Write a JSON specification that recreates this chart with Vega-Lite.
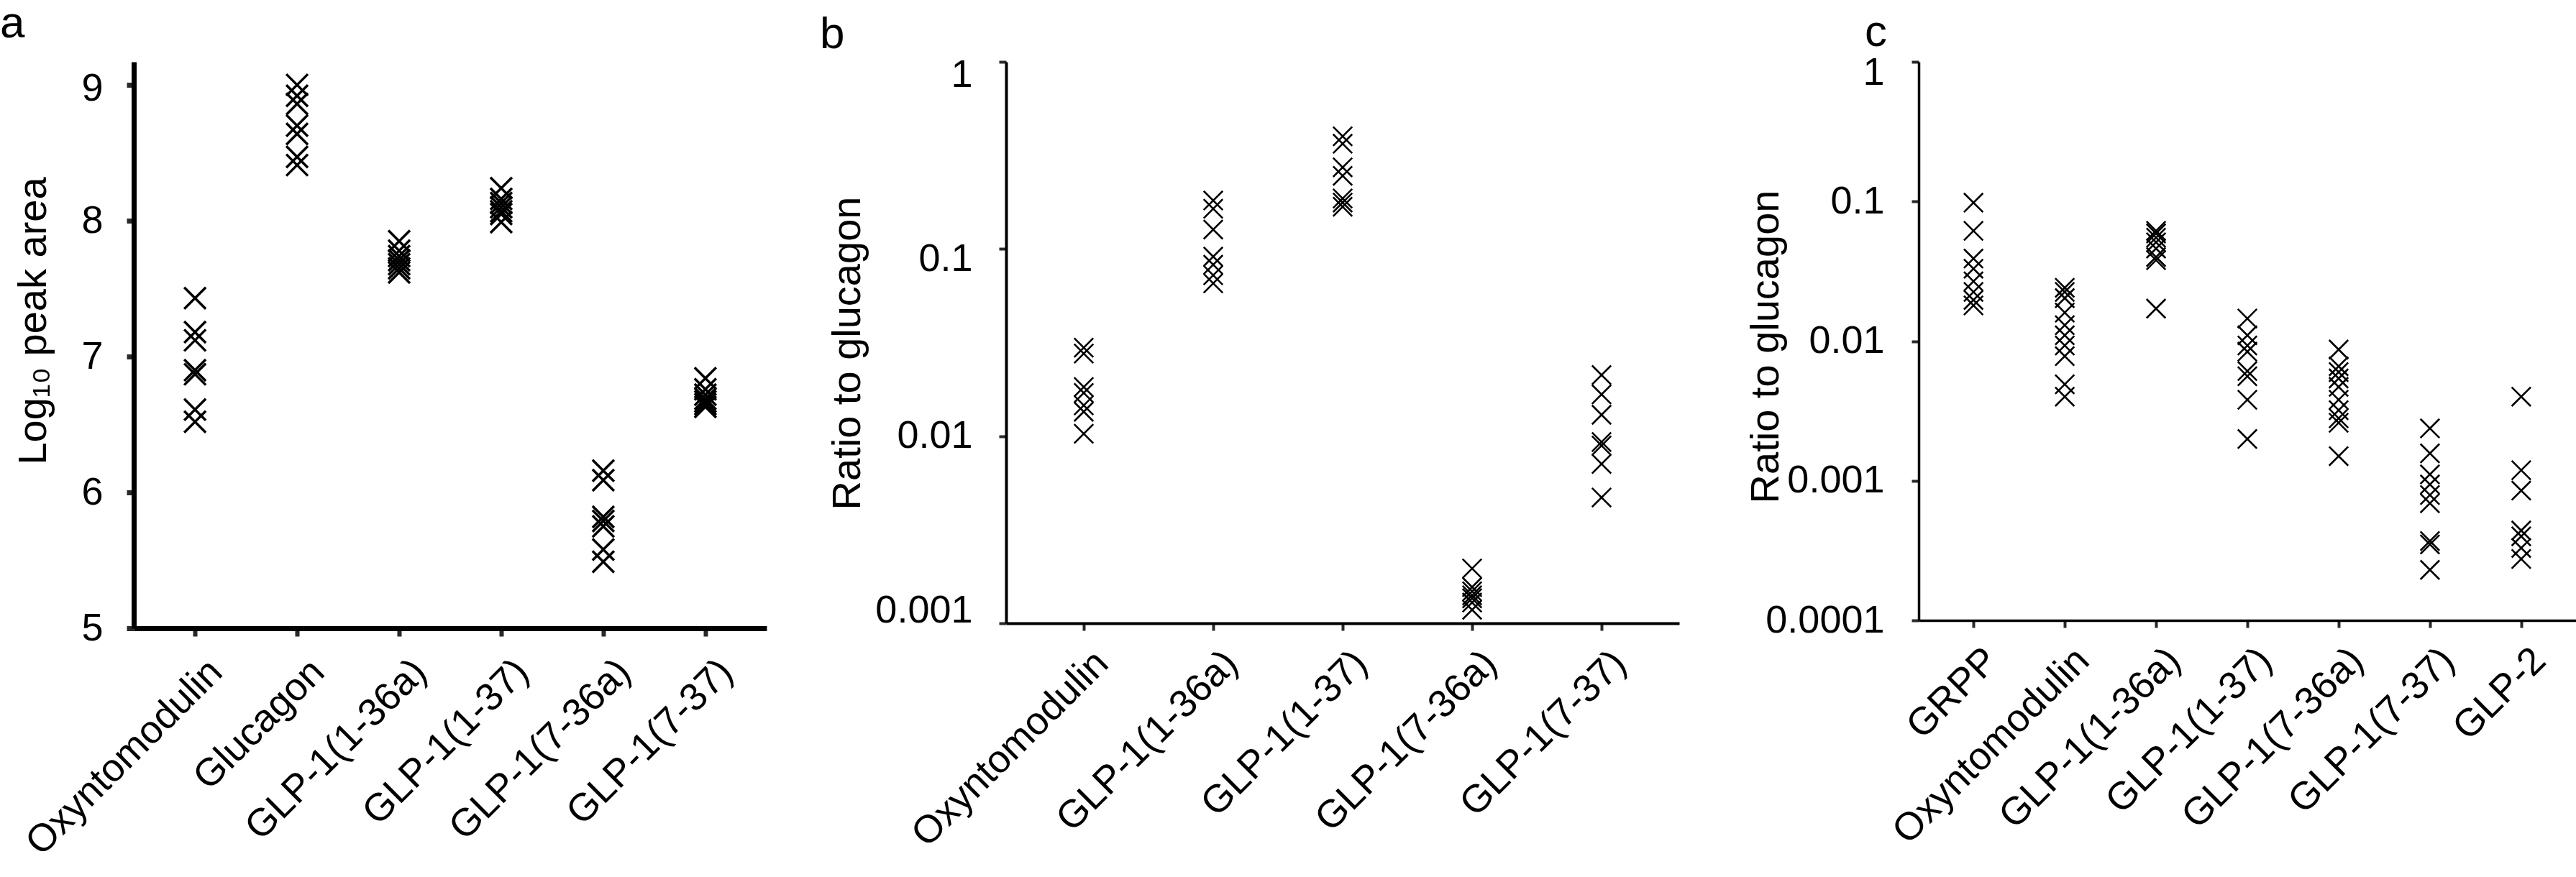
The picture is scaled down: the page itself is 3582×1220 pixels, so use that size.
{
  "$schema": "https://vega.github.io/schema/vega-lite/v6.json",
  "background": "white",
  "padding": {"top": 2, "left": 0, "right": 0, "bottom": 0},
  "bounds": "flush",
  "spacing": 333,
  "config": {
    "view": {"stroke": null},
    "font": "Liberation Sans",
    "axis": {"grid": false, "labelFont": "Liberation Sans", "titleFont": "Liberation Sans", "labelColor": "black", "titleColor": "black", "titleFontWeight": "normal", "domainColor": "black", "tickColor": "#2a2a2a", "labelLimit": 0},
    "title": {"font": "Liberation Sans", "fontWeight": "normal", "fontSize": 62, "anchor": "start", "frame": "group", "baseline": "alphabetic", "color": "black"}
  },
  "datasets": {
    "a": [
      {"cat": "Oxyntomodulin", "value": 7.43}, {"cat": "Oxyntomodulin", "value": 7.18}, {"cat": "Oxyntomodulin", "value": 7.12}, {"cat": "Oxyntomodulin", "value": 6.90}, {"cat": "Oxyntomodulin", "value": 6.87}, {"cat": "Oxyntomodulin", "value": 6.61}, {"cat": "Oxyntomodulin", "value": 6.52},
      {"cat": "Glucagon", "value": 9.00}, {"cat": "Glucagon", "value": 8.92}, {"cat": "Glucagon", "value": 8.86}, {"cat": "Glucagon", "value": 8.70}, {"cat": "Glucagon", "value": 8.64}, {"cat": "Glucagon", "value": 8.47}, {"cat": "Glucagon", "value": 8.41},
      {"cat": "GLP-1(1-36a)", "value": 7.85}, {"cat": "GLP-1(1-36a)", "value": 7.78}, {"cat": "GLP-1(1-36a)", "value": 7.74}, {"cat": "GLP-1(1-36a)", "value": 7.71}, {"cat": "GLP-1(1-36a)", "value": 7.68}, {"cat": "GLP-1(1-36a)", "value": 7.65}, {"cat": "GLP-1(1-36a)", "value": 7.62},
      {"cat": "GLP-1(1-37)", "value": 8.24}, {"cat": "GLP-1(1-37)", "value": 8.16}, {"cat": "GLP-1(1-37)", "value": 8.13}, {"cat": "GLP-1(1-37)", "value": 8.10}, {"cat": "GLP-1(1-37)", "value": 8.07}, {"cat": "GLP-1(1-37)", "value": 8.05}, {"cat": "GLP-1(1-37)", "value": 7.99},
      {"cat": "GLP-1(7-36a)", "value": 6.16}, {"cat": "GLP-1(7-36a)", "value": 6.09}, {"cat": "GLP-1(7-36a)", "value": 5.82}, {"cat": "GLP-1(7-36a)", "value": 5.79}, {"cat": "GLP-1(7-36a)", "value": 5.75}, {"cat": "GLP-1(7-36a)", "value": 5.58}, {"cat": "GLP-1(7-36a)", "value": 5.49},
      {"cat": "GLP-1(7-37)", "value": 6.84}, {"cat": "GLP-1(7-37)", "value": 6.76}, {"cat": "GLP-1(7-37)", "value": 6.72}, {"cat": "GLP-1(7-37)", "value": 6.69}, {"cat": "GLP-1(7-37)", "value": 6.67}, {"cat": "GLP-1(7-37)", "value": 6.65}, {"cat": "GLP-1(7-37)", "value": 6.63}
    ],
    "b": [
      {"cat": "Oxyntomodulin", "value": 0.0297}, {"cat": "Oxyntomodulin", "value": 0.0276}, {"cat": "Oxyntomodulin", "value": 0.0183}, {"cat": "Oxyntomodulin", "value": 0.0170}, {"cat": "Oxyntomodulin", "value": 0.0146}, {"cat": "Oxyntomodulin", "value": 0.0135}, {"cat": "Oxyntomodulin", "value": 0.0103},
      {"cat": "GLP-1(1-36a)", "value": 0.1815}, {"cat": "GLP-1(1-36a)", "value": 0.164}, {"cat": "GLP-1(1-36a)", "value": 0.127}, {"cat": "GLP-1(1-36a)", "value": 0.091}, {"cat": "GLP-1(1-36a)", "value": 0.0824}, {"cat": "GLP-1(1-36a)", "value": 0.0724}, {"cat": "GLP-1(1-36a)", "value": 0.0655},
      {"cat": "GLP-1(1-37)", "value": 0.40}, {"cat": "GLP-1(1-37)", "value": 0.365}, {"cat": "GLP-1(1-37)", "value": 0.273}, {"cat": "GLP-1(1-37)", "value": 0.246}, {"cat": "GLP-1(1-37)", "value": 0.186}, {"cat": "GLP-1(1-37)", "value": 0.177}, {"cat": "GLP-1(1-37)", "value": 0.168},
      {"cat": "GLP-1(7-36a)", "value": 0.00196}, {"cat": "GLP-1(7-36a)", "value": 0.00156}, {"cat": "GLP-1(7-36a)", "value": 0.00148}, {"cat": "GLP-1(7-36a)", "value": 0.00141}, {"cat": "GLP-1(7-36a)", "value": 0.00136}, {"cat": "GLP-1(7-36a)", "value": 0.00129}, {"cat": "GLP-1(7-36a)", "value": 0.00118},
      {"cat": "GLP-1(7-37)", "value": 0.0212}, {"cat": "GLP-1(7-37)", "value": 0.0167}, {"cat": "GLP-1(7-37)", "value": 0.0130}, {"cat": "GLP-1(7-37)", "value": 0.0093}, {"cat": "GLP-1(7-37)", "value": 0.0089}, {"cat": "GLP-1(7-37)", "value": 0.0071}, {"cat": "GLP-1(7-37)", "value": 0.0047}
    ],
    "c": [
      {"cat": "GRPP", "value": 0.098}, {"cat": "GRPP", "value": 0.0616}, {"cat": "GRPP", "value": 0.039}, {"cat": "GRPP", "value": 0.033}, {"cat": "GRPP", "value": 0.0268}, {"cat": "GRPP", "value": 0.0225}, {"cat": "GRPP", "value": 0.0197}, {"cat": "GRPP", "value": 0.018},
      {"cat": "Oxyntomodulin", "value": 0.0241}, {"cat": "Oxyntomodulin", "value": 0.0225}, {"cat": "Oxyntomodulin", "value": 0.0203}, {"cat": "Oxyntomodulin", "value": 0.016}, {"cat": "Oxyntomodulin", "value": 0.013}, {"cat": "Oxyntomodulin", "value": 0.011}, {"cat": "Oxyntomodulin", "value": 0.0093}, {"cat": "Oxyntomodulin", "value": 0.0078}, {"cat": "Oxyntomodulin", "value": 0.0049}, {"cat": "Oxyntomodulin", "value": 0.0040},
      {"cat": "GLP-1(1-36a)", "value": 0.0616}, {"cat": "GLP-1(1-36a)", "value": 0.059}, {"cat": "GLP-1(1-36a)", "value": 0.055}, {"cat": "GLP-1(1-36a)", "value": 0.051}, {"cat": "GLP-1(1-36a)", "value": 0.046}, {"cat": "GLP-1(1-36a)", "value": 0.040}, {"cat": "GLP-1(1-36a)", "value": 0.038}, {"cat": "GLP-1(1-36a)", "value": 0.0171},
      {"cat": "GLP-1(1-37)", "value": 0.0145}, {"cat": "GLP-1(1-37)", "value": 0.011}, {"cat": "GLP-1(1-37)", "value": 0.0093}, {"cat": "GLP-1(1-37)", "value": 0.0084}, {"cat": "GLP-1(1-37)", "value": 0.0061}, {"cat": "GLP-1(1-37)", "value": 0.0056}, {"cat": "GLP-1(1-37)", "value": 0.0038}, {"cat": "GLP-1(1-37)", "value": 0.00199},
      {"cat": "GLP-1(7-36a)", "value": 0.0087}, {"cat": "GLP-1(7-36a)", "value": 0.0066}, {"cat": "GLP-1(7-36a)", "value": 0.0060}, {"cat": "GLP-1(7-36a)", "value": 0.0054}, {"cat": "GLP-1(7-36a)", "value": 0.0047}, {"cat": "GLP-1(7-36a)", "value": 0.0038}, {"cat": "GLP-1(7-36a)", "value": 0.0032}, {"cat": "GLP-1(7-36a)", "value": 0.0028}, {"cat": "GLP-1(7-36a)", "value": 0.0026}, {"cat": "GLP-1(7-36a)", "value": 0.0015},
      {"cat": "GLP-1(7-37)", "value": 0.00237}, {"cat": "GLP-1(7-37)", "value": 0.00157}, {"cat": "GLP-1(7-37)", "value": 0.00111}, {"cat": "GLP-1(7-37)", "value": 0.00094}, {"cat": "GLP-1(7-37)", "value": 0.00079}, {"cat": "GLP-1(7-37)", "value": 0.00069}, {"cat": "GLP-1(7-37)", "value": 0.00037}, {"cat": "GLP-1(7-37)", "value": 0.00035}, {"cat": "GLP-1(7-37)", "value": 0.00023},
      {"cat": "GLP-2", "value": 0.0040}, {"cat": "GLP-2", "value": 0.00119}, {"cat": "GLP-2", "value": 0.00085}, {"cat": "GLP-2", "value": 0.00044}, {"cat": "GLP-2", "value": 0.00040}, {"cat": "GLP-2", "value": 0.00033}, {"cat": "GLP-2", "value": 0.000275}
    ]
  },
  "hconcat": [
    {
      "width": 880, "height": 788,
      "title": {"text": "a", "dx": -186, "offset": 21},
      "data": {"name": "a"},
      "mark": {"type": "point", "shape": "M-1,-1L1,1M-1,1L1,-1", "filled": false, "stroke": "black", "strokeWidth": 3.5, "size": 900, "opacity": 1},
      "encoding": {
        "x": {"field": "cat", "type": "nominal", "sort": ["Oxyntomodulin", "Glucagon", "GLP-1(1-36a)", "GLP-1(1-37)", "GLP-1(7-36a)", "GLP-1(7-37)"],
              "scale": {"type": "point", "padding": 0.6},
              "axis": {"title": null, "labelAngle": -45, "labelAlign": "right", "labelBaseline": "top", "labelFontSize": 54, "labelPadding": 22, "labelOffset": 10, "domainWidth": 7, "tickWidth": 6, "tickSize": 11}},
        "y": {"field": "value", "type": "quantitative",
              "scale": {"domain": [5, 9.17], "nice": false, "zero": false},
              "axis": {"title": "Log₁₀ peak area", "values": [5, 6, 7, 8, 9], "format": "d", "labelFontSize": 54, "labelPadding": 33, "labelOffset": {"condition": {"test": "datum.value == 9", "value": 5}, "value": 0}, "titleFontSize": 56, "domainWidth": 7, "tickWidth": 7, "tickSize": 10, "titleX": -123, "titleY": 360, "titleBaseline": "alphabetic", "titleAngle": -90}}
      }
    },
    {
      "width": 936, "height": 781,
      "title": {"text": "b", "dx": -259, "offset": -3},
      "data": {"name": "b"},
      "mark": {"type": "point", "shape": "M-1,-1L1,1M-1,1L1,-1", "filled": false, "stroke": "black", "strokeWidth": 2.6, "size": 700, "opacity": 1},
      "encoding": {
        "x": {"field": "cat", "type": "nominal", "sort": ["Oxyntomodulin", "GLP-1(1-36a)", "GLP-1(1-37)", "GLP-1(7-36a)", "GLP-1(7-37)"],
              "scale": {"type": "point", "padding": 0.6},
              "axis": {"title": null, "labelAngle": -45, "labelAlign": "right", "labelBaseline": "top", "labelFontSize": 54, "labelPadding": 18, "labelOffset": 6, "domainWidth": 4, "tickWidth": 4, "tickSize": 10}},
        "y": {"field": "value", "type": "quantitative",
              "scale": {"type": "log", "domain": [0.001, 1], "nice": false},
              "axis": {"title": "Ratio to glucagon", "values": [0.001, 0.01, 0.1, 1], "format": "~g", "labelFontSize": 54, "labelPadding": 37, "labelOffset": {"condition": [{"test": "datum.value == 1", "value": 18}, {"test": "datum.value == 0.1", "value": 14}, {"test": "datum.value == 0.001", "value": -18}], "value": 0}, "titleFontSize": 56, "domainWidth": 4, "tickWidth": 4, "tickSize": 10, "titleX": -204, "titleY": 405, "titleBaseline": "alphabetic", "titleAngle": -90}}
      }
    },
    {
      "width": 914, "height": 777,
      "title": {"text": "c", "dx": -75, "offset": -3},
      "data": {"name": "c"},
      "mark": {"type": "point", "shape": "M-1,-1L1,1M-1,1L1,-1", "filled": false, "stroke": "black", "strokeWidth": 2.6, "size": 700, "opacity": 1},
      "encoding": {
        "x": {"field": "cat", "type": "nominal", "sort": ["GRPP", "Oxyntomodulin", "GLP-1(1-36a)", "GLP-1(1-37)", "GLP-1(7-36a)", "GLP-1(7-37)", "GLP-2"],
              "scale": {"type": "point", "padding": 0.6},
              "axis": {"title": null, "labelAngle": -45, "labelAlign": "right", "labelBaseline": "top", "labelFontSize": 54, "labelPadding": 18, "labelOffset": 6, "domainWidth": 3.5, "tickWidth": 4, "tickSize": 10}},
        "y": {"field": "value", "type": "quantitative",
              "scale": {"type": "log", "domain": [0.0001, 1], "nice": false},
              "axis": {"title": "Ratio to glucagon", "values": [0.0001, 0.001, 0.01, 0.1, 1], "format": "~g", "labelFontSize": 54, "labelPadding": 38, "labelOffset": {"condition": {"test": "datum.value == 1", "value": 15}, "value": 0}, "titleFontSize": 56, "domainWidth": 3.5, "tickWidth": 4, "tickSize": 10, "titleX": -196, "titleY": 396, "titleBaseline": "alphabetic", "titleAngle": -90}}
      }
    }
  ]
}
